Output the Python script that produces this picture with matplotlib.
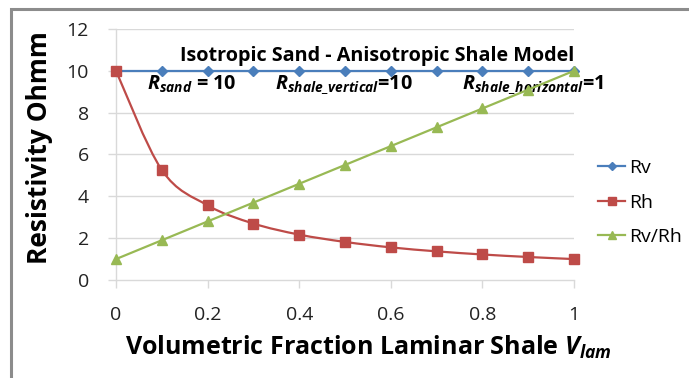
import numpy as np
import matplotlib.pyplot as plt
from matplotlib.path import Path
from matplotlib.patches import PathPatch, Rectangle
from matplotlib.lines import Line2D

FONT = 'Open Sans'
plt.rcParams['font.family'] = [FONT, 'DejaVu Sans']
plt.rcParams['mathtext.fontset'] = 'custom'
plt.rcParams['mathtext.rm'] = FONT
plt.rcParams['mathtext.it'] = FONT + ':italic'
plt.rcParams['mathtext.bf'] = FONT + ':bold'
plt.rcParams['mathtext.bfit'] = FONT + ':italic:bold'

# data
v_lam = [0, 0.1, 0.2, 0.3, 0.4, 0.5, 0.6, 0.7, 0.8, 0.9, 1.0]
rv = [10, 10, 10, 10, 10, 10, 10, 10, 10, 10, 10]
rh = [10, 5.26, 3.57, 2.70, 2.17, 1.82, 1.56, 1.37, 1.22, 1.10, 1.0]
rv_rh = [1.0, 1.9, 2.8, 3.7, 4.6, 5.5, 6.4, 7.3, 8.2, 9.1, 10.0]
x_ticks = [0, 0.2, 0.4, 0.6, 0.8, 1]
x_tick_labels = ['0', '0.2', '0.4', '0.6', '0.8', '1']
y_ticks = [0, 2, 4, 6, 8, 10, 12]

BLUE = '#4A7EBB'
RED = '#BE4B48'
GREEN = '#98B954'
GRID = '#D9D9D9'


def smooth_path(x, y):
    # excel-like smoothed line drawn as cubic bezier segments through the points
    p = np.column_stack([x, y])
    verts = [p[0]]
    codes = [Path.MOVETO]
    n = len(p)
    for i in range(n - 1):
        p_prev = p[i - 1] if i > 0 else p[i]
        p_next2 = p[i + 2] if i + 2 < n else p[i + 1]
        c1 = p[i] + (p[i + 1] - p_prev) / 6.0
        c2 = p[i + 1] - (p_next2 - p[i]) / 6.0
        verts += [c1, c2, p[i + 1]]
        codes += [Path.CURVE4] * 3
    return Path(verts, codes)


fig = plt.figure(figsize=(6.89, 3.78), dpi=100)
W, H = 689, 378
ax = fig.add_axes([116 / W, 1 - 280 / H, (574 - 116) / W, (280 - 29) / H])

# outer chart frame (clipped by the image on right/bottom)
fig.patches.append(Rectangle((10.5 / W, -0.1), 1.2, 1 - 8.5 / H + 0.1,
                             transform=fig.transFigure, fill=False,
                             edgecolor='#8C8C8C', linewidth=2.2))

for y in y_ticks[1:]:
    ax.axhline(y, color=GRID, linewidth=1, zorder=0)

ax.plot(v_lam, rv, color=BLUE, linewidth=1.6, marker='D', markersize=5.5,
        zorder=3, clip_on=False)
ax.add_patch(PathPatch(smooth_path(v_lam, rh), facecolor='none', edgecolor=RED,
                       linewidth=1.6, zorder=3, clip_on=False))
ax.plot(v_lam, rh, color=RED, linestyle='none', marker='s', markersize=7,
        zorder=4, clip_on=False)
ax.plot(v_lam, rv_rh, color=GREEN, linewidth=1.6, marker='^', markersize=7.5,
        zorder=5, clip_on=False)

ax.set_xlim(0, 1)
ax.set_ylim(0, 12)
ax.set_xticks(x_ticks)
ax.set_xticklabels(x_tick_labels)
ax.set_yticks(y_ticks)
for side in ['top', 'right']:
    ax.spines[side].set_visible(False)
for side in ['left', 'bottom']:
    ax.spines[side].set_color(GRID)
    ax.spines[side].set_linewidth(1)
ax.tick_params(axis='both', direction='out', length=6, width=1, color=GRID,
               labelsize=14, labelcolor='#222222')
ax.tick_params(axis='y', pad=13.5)
ax.tick_params(axis='x', pad=13)

ax.set_ylabel('Resistivity Ohmm', fontsize=19, fontweight='bold')
ax.yaxis.set_label_coords(-0.137, 0.528)
fig.text(368 / W, 1 - 355 / H, r'Volumetric Fraction Laminar Shale $\mathbfit{V}_{\mathbfit{lam}}$',
         fontsize=18, fontweight='bold', ha='center', va='baseline')

ax.text(0.571, 10.72, 'Isotropic Sand - Anisotropic Shale Model', fontsize=14.2,
        fontweight='bold', ha='center', va='center')
ax.text(0.068, 9.35, r'$\mathbfit{R}_{\mathbfit{sand}}$ = 10', fontsize=14.2,
        fontweight='bold', ha='left', va='center')
ax.text(0.347, 9.35, r'$\mathbfit{R}_{\mathbfit{shale\_vertical}}$=10', fontsize=14.2,
        fontweight='bold', ha='left', va='center')
ax.text(0.755, 9.35, r'$\mathbfit{R}_{\mathbfit{shale\_horizontal}}$=1', fontsize=14.2,
        fontweight='bold', ha='left', va='center')

handles = [
    Line2D([], [], color=BLUE, linewidth=1.6, marker='D', markersize=4.5),
    Line2D([], [], color=RED, linewidth=1.6, marker='s', markersize=5.5),
    Line2D([], [], color=GREEN, linewidth=1.6, marker='^', markersize=5.5),
]
fig.legend(handles, ['Rv', 'Rh', 'Rv/Rh'], loc='upper left',
           bbox_to_anchor=(598 / W, 1 - 159 / H), frameon=False, fontsize=14,
           handlelength=1.4, handletextpad=0.2, labelspacing=0.85, borderpad=0,
           borderaxespad=0)

fig.savefig('out.png', dpi=100)
